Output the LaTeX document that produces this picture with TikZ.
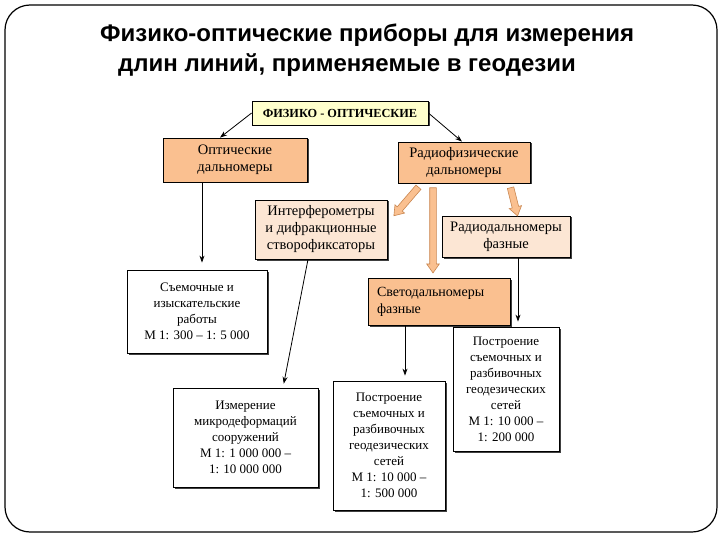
\documentclass[tikz,border=0pt]{standalone}
\usepackage{fontspec}
\setmainfont{Liberation Serif}
\newfontfamily\titlefont{Liberation Sans}
\usetikzlibrary{shapes.arrows,calc,shadows,arrows.meta}
\definecolor{orangebox}{HTML}{FAC090}
\definecolor{peachbox}{HTML}{FCE6D4}
\definecolor{yellowbox}{HTML}{FFFFCC}
\definecolor{arrowedge}{HTML}{C98650}
\tikzset{
  boxbase/.style={draw=black, line width=0.8pt, align=center, inner sep=2pt,
    drop shadow={shadow xshift=1.5pt, shadow yshift=-1.5pt, fill=black!75, opacity=1}},
  colbox/.style={boxbase, font=\fontsize{14.5}{17}\selectfont},
  whitebox/.style={boxbase, fill=white, font=\fontsize{13}{16}\selectfont},
  arr/.style={-{Stealth[length=7pt,width=5pt]}, line width=0.8pt},
  fat/.style={single arrow, draw=arrowedge, fill=orangebox, line width=0.6pt,
    inner sep=3pt, single arrow head extend=3pt,
    single arrow tip angle=70, single arrow head indent=0pt}
}
\newcommand{\fatarr}[2]{%
  \path let \p1=($(#2)-(#1)$), \n1={veclen(\x1,\y1)}, \n2={atan2(\y1,\x1)} in
    node[fat, minimum height=\n1, rotate=\n2] at ($(#1)!0.5!(#2)$) {};}
\begin{document}
\begin{tikzpicture}[x=1pt,y=-1pt]
\useasboundingbox (0,0) rectangle (720,540);
\draw[line width=1.2pt, rounded corners=25pt] (5,5) rectangle (717,532);
% title
\node[anchor=west, font=\titlefont\bfseries\fontsize{24}{26}\selectfont, inner sep=0] (t1) at (100,35) {Физико-оптические приборы для измерения};
\node[anchor=west, font=\titlefont\bfseries\fontsize{24}{26}\selectfont, inner sep=0] (t2) at (118,65) {длин линий, применяемые в геодезии};
% boxes
\node[boxbase, fill=yellowbox, minimum width=176pt, minimum height=24pt, font=\bfseries\fontsize{12.3}{14}\selectfont] (fiz) at (340,113) {ФИЗИКО - ОПТИЧЕСКИЕ};
\node[colbox, fill=orangebox, minimum width=144pt, minimum height=44pt] (opt) at (235,160) {Оптические\\дальномеры};
\node[colbox, fill=orangebox, minimum width=132pt, minimum height=41pt] (rad) at (464,162.5) {Радиофизические\\дальномеры};
\node[colbox, fill=peachbox, minimum width=132pt, minimum height=59pt] (int) at (321,229.5) {Интерферометры\\и дифракционные\\створофиксаторы};
\node[colbox, fill=peachbox, minimum width=128pt, minimum height=41pt] (radf) at (506,236.5) {Радиодальномеры\\фазные};
\node[colbox, fill=orangebox, minimum width=142pt, minimum height=47pt, text width=124pt, align=left, font=\fontsize{14}{17}\selectfont] (svet) at (439,301.5) {Светодальномеры\\фазные};
\node[whitebox, minimum width=140pt, minimum height=83pt] (sem) at (197,311.5) {Съемочные и\\изыскательские\\работы\\М 1: 300 -- 1: 5 000};
\node[whitebox, minimum width=145pt, minimum height=99pt] (izm) at (245.5,437.5) {Измерение\\микродеформаций\\сооружений\\М 1: 1 000 000 --\\1: 10 000 000};
\node[whitebox, minimum width=112pt, minimum height=129pt] (post1) at (389,445.5) {Построение\\съемочных и\\разбивочных\\геодезических\\сетей\\М 1: 10 000 --\\1: 500 000};
\node[whitebox, minimum width=106pt, minimum height=124pt] (post2) at (506,389) {Построение\\съемочных и\\разбивочных\\геодезических\\сетей\\М 1: 10 000 --\\1: 200 000};
% thin arrows
\draw[arr] (fiz.west) -- ([xshift=-15pt]opt.north);
\draw[arr] (fiz.east) -- ([xshift=-2pt]rad.north);
\draw[arr, shorten >=7pt] ([xshift=-33pt]opt.south) -- ([xshift=5pt]sem.north);
\draw[arr, shorten >=4pt] ([xshift=-13pt]int.south) -- ([xshift=37.5pt]izm.north);
\draw[arr, shorten >=5pt] ([xshift=-34pt]svet.south) -- ([xshift=16pt]post1.north);
\draw[arr, shorten >=5pt] ([xshift=12pt]radf.south) -- ([xshift=12pt]post2.north);
% fat arrows
\coordinate (fa1) at ([xshift=-44pt,yshift=-2pt]rad.south);
\coordinate (fa1e) at ([xshift=8pt,yshift=15.5pt]int.east);
\coordinate (fa2) at ([xshift=-31pt,yshift=-2pt]rad.south);
\coordinate (fa2e) at ([xshift=-6pt,yshift=7pt]svet.north);
\coordinate (fa3) at ([xshift=46pt,yshift=-2pt]rad.south);
\coordinate (fa3e) at ([xshift=11pt,yshift=2pt]radf.north);
\fatarr{fa1}{fa1e}
\fatarr{fa2}{fa2e}
\fatarr{fa3}{fa3e}
\end{tikzpicture}
\end{document}
